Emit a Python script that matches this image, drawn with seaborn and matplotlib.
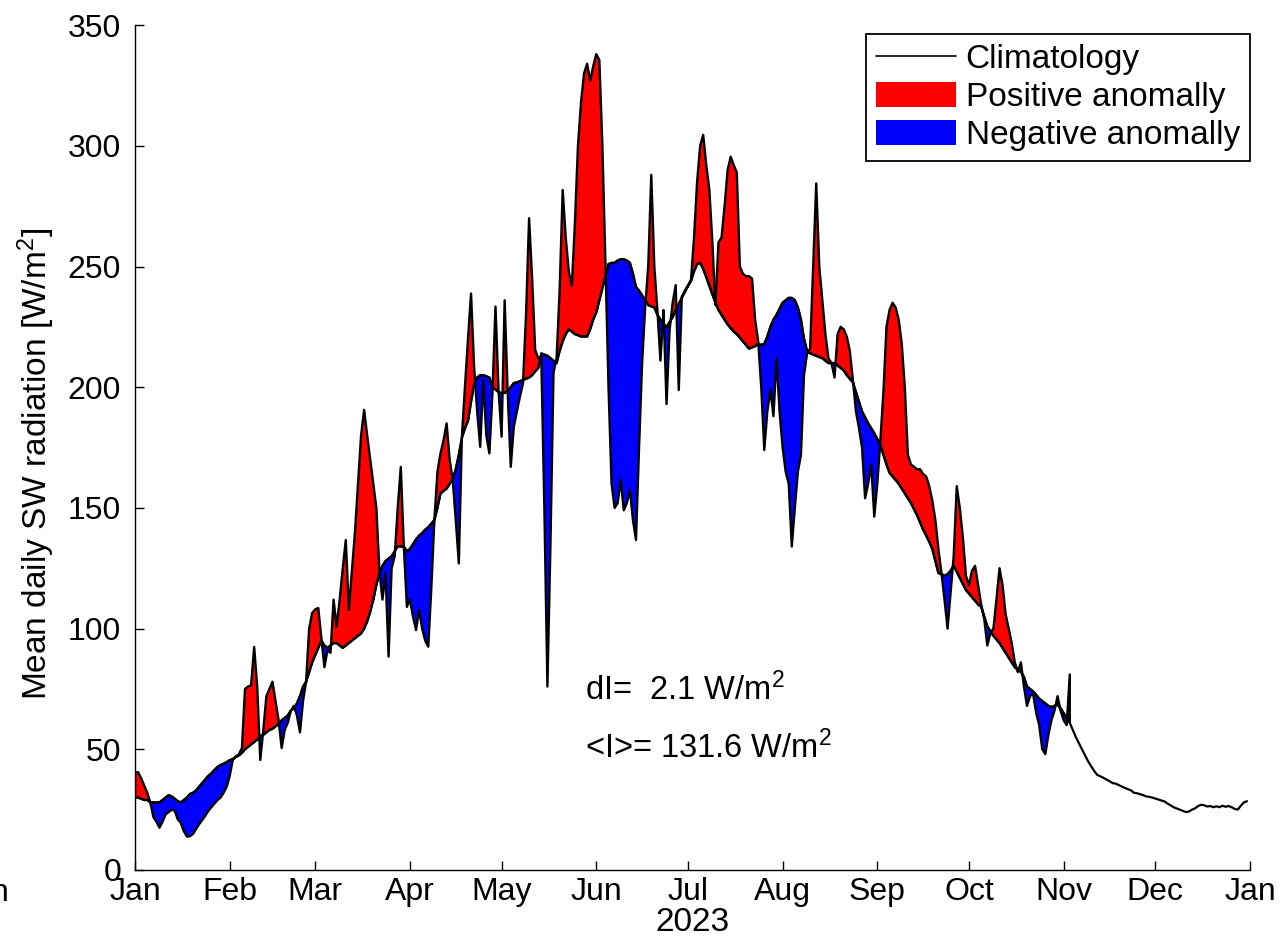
import numpy as np
import pandas as pd
import matplotlib
matplotlib.use("Agg")
import matplotlib.pyplot as plt
from matplotlib.patches import Patch
from matplotlib.lines import Line2D
import seaborn as sns

# ---------------- data (daily values, W/m^2) ----------------
climatology = [
    30, 30, 29.5, 29, 29, 28, 28, 28, 28, 29,
    30, 31, 30.5, 29.5, 28.5, 28, 29, 30, 31.5, 32,
    33, 34.5, 36, 37.5, 39, 40, 41.5, 42.7, 43.5, 44,
    44.7, 45.5, 46, 46.8, 47.5, 48.5, 50, 51, 52, 53,
    54, 55.5, 56, 57, 58, 58.5, 59.5, 60.5, 62, 63,
    64, 66, 67, 69, 72, 76, 78, 82, 86, 89,
    92, 95, 93, 92, 93, 94, 94, 93, 92, 93,
    94, 95, 96, 97, 98, 100, 103, 107, 112, 118,
    123, 126, 128, 129, 130, 132, 134, 134, 134, 132,
    133, 135, 137, 138.5, 139.6, 141, 142, 143.5, 145, 150,
    156, 157, 158, 160, 162, 166, 172, 179, 183, 186,
    194, 201, 204, 205, 205, 204.5, 204, 200, 199, 198,
    197.5, 197.6, 198.5, 200, 201.7, 202, 202.5, 203, 203.5, 204,
    205, 206.5, 208, 214, 213.5, 213, 212, 211, 210, 215,
    219, 222, 224, 223, 222, 221.5, 221, 221, 221, 224,
    228, 231, 236, 241, 246, 251, 251.5, 251.5, 252.5, 253,
    253, 252.5, 251.5, 247, 241.5, 240, 238, 236, 234, 233.5,
    233, 230, 228, 226, 225, 227, 229, 232, 234.5, 237,
    239.5, 242, 244, 248, 251, 251.5, 249, 245.6, 242, 238.5,
    235, 232, 230, 228, 226, 224.5, 223, 222, 220.5, 219,
    217.5, 216, 216.5, 217, 218, 217.5, 218, 221, 225, 228,
    230, 232.5, 235, 236, 237, 237, 236, 233, 228, 220,
    215, 214, 213.5, 213, 212.5, 212, 211, 210, 210, 210,
    209, 208, 207, 205, 203.5, 202, 198, 194, 190, 187.5,
    185, 183, 181, 178.5, 176, 172, 168, 164.5, 163, 161.5,
    160, 158, 156, 154, 152, 149.5, 147, 144, 141, 138.5,
    136, 133, 128, 123, 122.5, 122, 122.5, 124, 126, 123.5,
    121, 118.5, 116, 114.5, 113, 111.5, 110, 109, 105, 101,
    99, 97, 95.5, 94, 92, 90, 88, 86, 84, 83,
    82, 80, 76, 75, 74, 72.5, 71, 70, 69, 68,
    67.5, 68, 68.5, 67, 65, 63, 61, 58, 55, 52.5,
    50, 47.5, 45, 43, 41, 39.4, 38.8, 38.2, 37.5, 36.8,
    36, 35.8, 35.2, 34.6, 34, 33.5, 33, 32, 31.8, 31.4,
    31, 30.5, 30.3, 30, 29.6, 29.2, 28.8, 28.4, 27.5, 26.8,
    26, 25.5, 25, 24.5, 24, 24.2, 25, 25.5, 26.5, 27,
    26.8, 26.3, 26.5, 26, 26.4, 26, 26.6, 26.2, 26.5, 26,
    25.3, 25, 26.6, 28, 28.5,
]

observed = [
    40.5, 40.5, 38, 35, 32, 28, 22, 20, 17.5, 20,
    23, 24, 25, 24.5, 21, 19.5, 16, 13.8, 14, 15,
    17, 19, 20.7, 22.5, 24.5, 26, 27.5, 29, 30, 32,
    34.5, 39, 45.6, 47, 48, 50.5, 75, 76, 76.5, 92.4,
    76, 45.6, 58, 72, 75, 78, 70, 62, 50.5, 58,
    61, 66, 68, 64, 57, 70, 78, 100, 106.5, 108,
    108.5, 96, 84, 91, 90, 112, 100.8, 112, 125, 136.7,
    107.7, 124, 140, 160, 180, 190.6, 180, 170, 160, 150,
    124, 112, 123, 88.4, 125, 130, 150, 167, 134, 109,
    112, 105, 99.4, 107.7, 100, 95, 92.5, 117, 145, 165,
    172.6, 178, 185, 170, 161.6, 145, 127, 179.5, 200, 220,
    238.8, 208.5, 190, 175.3, 203, 180, 172.6, 197.4, 233.4, 198.8,
    179.5, 236, 197.4, 167, 183.6, 190, 196, 201.6, 230, 270,
    245, 215.4, 212, 212, 150, 76, 135, 206, 212, 240,
    281.7, 262, 248, 242, 268, 300, 318, 330, 334, 327,
    333, 338, 335.5, 300, 251, 200, 160, 150, 152, 161.6,
    149, 152, 157.4, 145, 136.7, 175, 210, 233, 250, 288,
    250, 232, 211, 232, 193, 223.7, 235, 242.3, 198.8, 237.5,
    240, 242, 244.4, 262, 285, 300, 304.5, 292, 282, 260,
    234, 260, 262, 275, 290, 295.5, 292, 289, 250, 247,
    246, 246, 245, 228, 219, 200, 174, 190, 199, 188,
    212, 190, 175, 165, 160, 134, 150, 165, 172, 205,
    214, 216, 250, 284.4, 250, 236, 222, 212, 210, 204,
    222, 225, 224, 221, 215, 203, 190, 183, 175, 154,
    160, 168, 146.4, 160, 178, 198, 225, 232, 235, 233,
    228, 218, 200, 172, 168, 167, 166, 166, 164, 163,
    159, 153, 145, 133, 123, 112, 100, 115, 130, 159,
    150, 138, 122, 118, 124, 126, 118, 110, 104, 93,
    98, 100, 112, 125, 118, 106, 100, 94, 86, 82,
    86, 76, 68, 72, 73, 65, 60, 50, 48, 56,
    62, 66, 72, 66, 62, 60, 81,
]

year_start = "2023-01-01"
year_end = "2024-01-01"
month_labels = ["Jan", "Feb", "Mar", "Apr", "May", "Jun", "Jul",
                "Aug", "Sep", "Oct", "Nov", "Dec", "Jan"]
y_ticks = [0, 50, 100, 150, 200, 250, 300, 350]
legend_labels = ["Climatology", "Positive anomally", "Negative anomally"]
stat_texts = ["dI=  2.1 W/m$^2$", "<I>= 131.6 W/m$^2$"]
year_label = "2023"
y_label = "Mean daily SW radiation [W/m$^2$]"

# ---------------- style ----------------
sns.set_style("ticks")
plt.rcParams["font.family"] = ["Liberation Sans", "DejaVu Sans"]
plt.rcParams["mathtext.fontset"] = "custom"
plt.rcParams["mathtext.rm"] = "Liberation Sans"
plt.rcParams["mathtext.it"] = "Liberation Sans:italic"
plt.rcParams["mathtext.bf"] = "Liberation Sans:bold"
plt.rcParams["text.color"] = "black"
plt.rcParams["axes.labelcolor"] = "black"
FS_TICK = 23
FS_LAB = 24
FS_LEG = 24
FS_TXT = 23.5

clim_dates = pd.date_range(year_start, periods=len(climatology), freq="D")
obs_dates = clim_dates[:len(observed)]
df_clim = pd.DataFrame({"date": clim_dates, "value": climatology})

obs = np.asarray(observed, dtype=float)
cl = np.asarray(climatology[:len(observed)], dtype=float)

fig = plt.figure(figsize=(12.86, 9.44), dpi=100)
ax = fig.add_axes([0.105, 0.0784, 0.867, 0.895])

ax.fill_between(obs_dates, obs, cl, where=obs >= cl, interpolate=True,
                facecolor=(1, 0, 0), edgecolor="black", linewidth=1.7, zorder=2)
ax.fill_between(obs_dates, obs, cl, where=obs <= cl, interpolate=True,
                facecolor=(0, 0, 1), edgecolor="black", linewidth=1.7, zorder=2)
sns.lineplot(data=df_clim, x="date", y="value", color="black", linewidth=1.6,
             ax=ax, legend=False, zorder=3)

ax.set_xlim(pd.Timestamp(year_start), pd.Timestamp(year_end))
ax.set_ylim(0, 350)
ax.set_yticks(y_ticks)
ax.set_yticklabels([str(v) for v in y_ticks], fontsize=FS_TICK)
month_ticks = pd.date_range(year_start, year_end, freq="MS")
ax.set_xticks(month_ticks)
ax.set_xticklabels(month_labels, fontsize=FS_TICK)

sns.despine(ax=ax)
for s in ["left", "bottom"]:
    ax.spines[s].set_color("black")
    ax.spines[s].set_linewidth(1.0)
ax.tick_params(axis="both", direction="in", length=6.5, width=1.0,
               colors="black", labelsize=FS_TICK)
ax.tick_params(axis="y", pad=10)
ax.tick_params(axis="x", pad=5)

ax.set_xlabel(year_label, fontsize=FS_LAB, labelpad=0, color="black")
ax.set_ylabel(y_label, fontsize=FS_LAB, color="black")
ax.yaxis.set_label_coords(-0.07, 0.48)

handles = [Line2D([], [], color="black", linewidth=1.2),
           Patch(facecolor=(1, 0, 0), edgecolor="none"),
           Patch(facecolor=(0, 0, 1), edgecolor="none")]
leg = ax.legend(handles, legend_labels, loc="upper right",
                bbox_to_anchor=(1.0, 0.99), borderaxespad=0, fontsize=FS_LEG,
                frameon=True, fancybox=False, framealpha=1, edgecolor="black",
                handlelength=2.4, handleheight=0.8, handletextpad=0.3,
                labelspacing=0.2, borderpad=0.3, labelcolor="black")
leg.get_frame().set_linewidth(1.3)

ax.text(0.4036, 0.213, stat_texts[0], transform=ax.transAxes, fontsize=FS_TXT,
        va="center", ha="left", color="black")
ax.text(0.4036, 0.144, stat_texts[1], transform=ax.transAxes, fontsize=FS_TXT,
        va="center", ha="left", color="black")

fig.text(9 / 1286, 1 - 893 / 944, "n", fontsize=FS_TICK, ha="right",
         va="center", color="black")

fig.savefig("out.png", dpi=100)
